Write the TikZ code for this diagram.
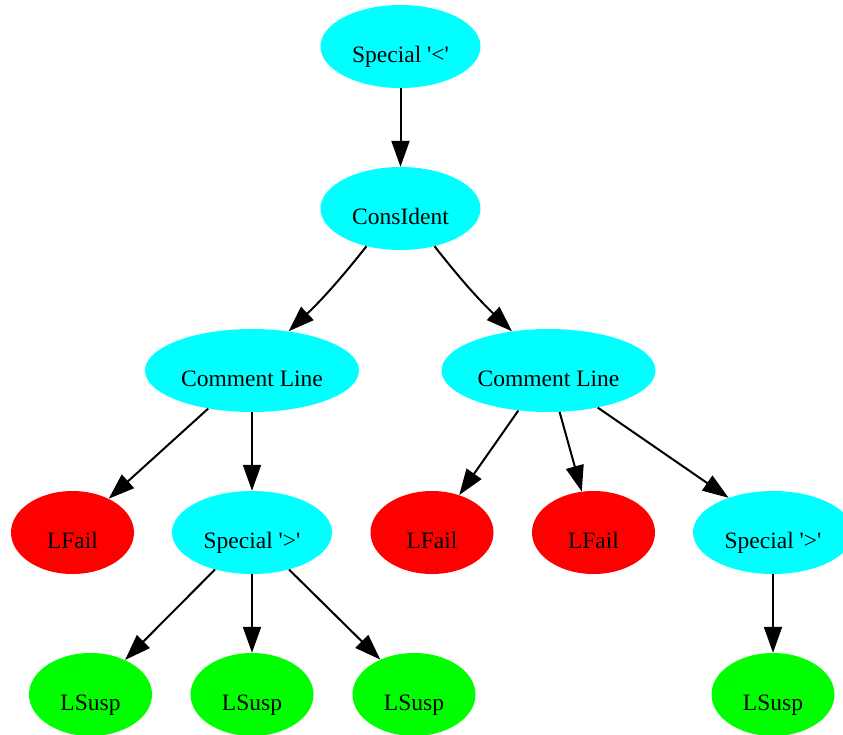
\documentclass[tikz,border=0pt]{standalone}
\usepackage{fontspec}
\setmainfont{Liberation Serif}[Ligatures=TeXOff]
\usetikzlibrary{arrows.meta,shapes.geometric}
\definecolor{gvcyan}{RGB}{0,255,255}
\definecolor{gvred}{RGB}{255,0,0}
\definecolor{gvgreen}{RGB}{0,255,0}
\tikzset{
  gvnode/.style={ellipse, inner sep=0pt, minimum height=83pt, text height=32pt, text depth=0pt,
    font=\fontsize{23.5}{28}\selectfont},
  wide/.style={gvnode, minimum width=160pt, fill=gvcyan},
  wider/.style={gvnode, minimum width=214pt, fill=gvcyan},
  failnode/.style={gvnode, minimum width=123pt, fill=gvred},
  suspnode/.style={gvnode, minimum width=123pt, fill=gvgreen},
  edge/.style={line width=2pt, -{Triangle[length=26pt,width=18pt]}}
}
\begin{document}
\begin{tikzpicture}[x=1pt,y=-1pt]
\useasboundingbox (0,0) rectangle (843,734);
\node[wide] (s1) at (400.5,46.5) {Special '<'};
\node[wide] (ci) at (400.5,208.5) {ConsIdent};
\node[wider] (cl1) at (252,370.5) {Comment Line};
\node[wider] (cl2) at (548.5,370.5) {Comment Line};
\node[failnode] (lf1) at (72.5,532.5) {LFail};
\node[wide] (sp1) at (252,532.5) {Special '>'};
\node[failnode] (lf2) at (432,532.5) {LFail};
\node[failnode] (lf3) at (593.5,532.5) {LFail};
\node[wide] (sp2) at (773,532.5) {Special '>'};
\node[suspnode] (ls1) at (90.5,694.5) {LSusp};
\node[suspnode] (ls2) at (252,694.5) {LSusp};
\node[suspnode] (ls3) at (414,694.5) {LSusp};
\node[suspnode] (ls4) at (773,694.5) {LSusp};

\draw[edge] (s1) -- (ci);
\draw[edge] (ci.228) to[bend left=4] (cl1.47);
\draw[edge] (ci.312) to[bend right=4] (cl2.133);
\draw[edge] (cl1.221) -- (lf1.43);
\draw[edge] (cl1) -- (sp1);
\draw[edge] (sp1.225) -- (ls1.45);
\draw[edge] (sp1) -- (ls2);
\draw[edge] (sp1.315) -- (ls3.134);
\draw[edge] (cl2.233) -- (lf2.54);
\draw[edge] (cl2.285) -- (lf3.106);
\draw[edge] (cl2.323) -- (sp2.142);
\draw[edge] (sp2) -- (ls4);
\end{tikzpicture}
\end{document}
